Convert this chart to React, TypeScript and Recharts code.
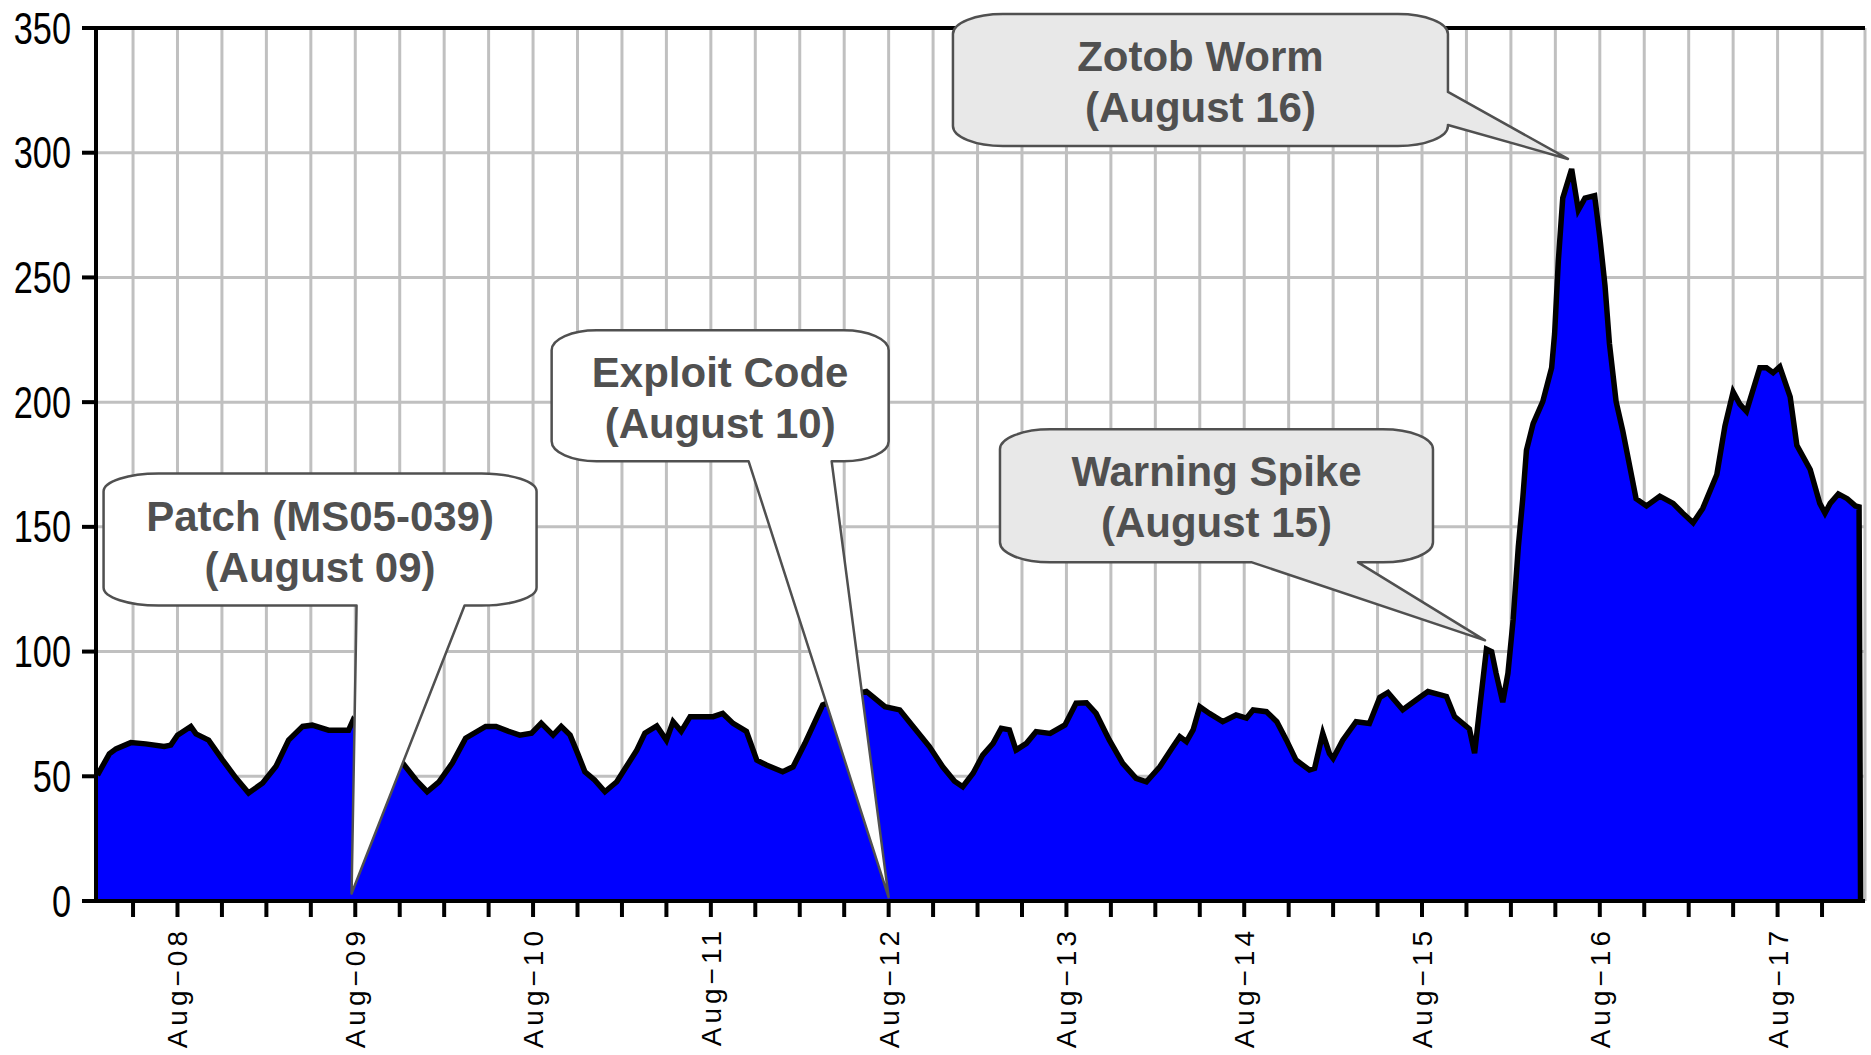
import React from 'react';
import { AreaChart, Area, XAxis, YAxis, CartesianGrid, ReferenceLine, ReferenceDot } from 'recharts';

// hours since Aug-08 00:00
const hours = [
  -10.8, -9.2, -8.3, -6.3, -4.3, -1.8, -0.9, 0, 1.8, 2.5,
  4.2, 6.1, 7.9, 9.6, 11.5, 13.3, 15, 16.9, 18.2, 20.4,
  23.1, 23.7, 26, 28, 30.4, 32.2, 33.7, 35.3, 37.1, 38.9,
  41.6, 43, 44.7, 46.2, 47.8, 49.1, 50.7, 51.8, 53, 54,
  55, 56.3, 57.7, 59.3, 60.6, 62, 63.1, 64.7, 66, 66.9,
  68, 69.2, 72.3, 73.6, 75, 76.8, 78.2, 79.5, 81.7, 83.1,
  84.7, 87.1, 90.1, 93, 95.5, 97.5, 99.3, 101.5, 103.3, 104.9,
  106, 107.4, 108.7, 110.1, 111.2, 112.3, 113.2, 114.6, 115.9, 117.8,
  119.8, 121.3, 122.7, 124, 125.8, 127.6, 129.4, 130.8, 132.6, 134.4,
  135.3, 136.2, 137.1, 138, 139.3, 141.1, 142.9, 144.3, 145.2, 147,
  148.4, 149.7, 151, 152.8, 153.5, 154.6, 155.5, 156, 157.3, 159.1,
  160.9, 162.3, 163.4, 165.4, 167.2, 168.8, 171.3, 172.4, 174.4, 175.1,
  175.8, 176.7, 177.4, 178, 178.9, 179.6, 180.3, 181, 181.6, 182.1,
  183, 184.3, 185.5, 185.9, 186.4, 187, 188.2, 189.1, 190, 191.3,
  192, 192.7, 193.3, 194.2, 195.1, 196, 196.9, 198.3, 200.1, 201.9,
  203.2, 204.6, 205.9, 207.8, 208.9, 210, 210.9, 211.8, 213.6, 214.5,
  215.4, 216.3, 217.7, 218.6, 220.4, 221.7, 222.4, 223.1, 224.2, 225.4,
  226.5, 227, 227.2,
];

const counts = [
  50.5, 59, 61, 63.5, 63, 62, 62.5, 66.5, 70, 67,
  64.5, 56.5, 49.3, 43.3, 47.3, 54, 64.5, 70, 70.5, 68.5,
  68.5, 72.5, 65, 60, 55.3, 48.5, 43.8, 47.8, 55.3, 65.3,
  70, 70, 68, 66.5, 67.3, 71.3, 66.5, 70, 66.5, 59.3,
  51.8, 48.5, 43.8, 47.8, 53.9, 60.5, 67.3, 70.2, 64.5, 71.9,
  68, 73.9, 73.9, 75.2, 71.2, 68, 56.5, 54.5, 51.8, 53.8,
  63.2, 78.6, 82, 84, 77.9, 76.6, 70, 61.9, 53.8, 48,
  45.8, 51.2, 58.5, 63.2, 69.2, 68.6, 60.5, 63.2, 67.9, 67.2,
  70.6, 79.3, 79.5, 75.2, 64.5, 55.2, 49.2, 47.8, 53.8, 61.9,
  65.9, 63.9, 68.6, 77.9, 75.2, 71.9, 74.6, 73.3, 76.6, 75.9,
  71.9, 64.5, 56.5, 52.5, 53.2, 67.2, 59.2, 57.2, 64.5, 71.9,
  71.2, 81.6, 83.6, 76.7, 80.6, 84, 82, 73.9, 69, 59.3,
  77.7, 101, 100, 91.3, 79.7, 91.3, 112.7, 141.9, 161.3, 180.7,
  191.4, 200.2, 213.8, 227.4, 256.5, 281.8, 293.5, 277, 281.8, 282.8,
  266.2, 246.8, 223.5, 200.2, 188.5, 174.9, 161.3, 158.4, 162.3, 159.4,
  155.5, 151.6, 157.4, 171, 190.5, 204.1, 199.2, 196.3, 213.8, 213.8,
  211.8, 214.2, 202.1, 182.7, 173, 159.4, 155.5, 159.4, 163.2, 161.3,
  158.4, 158, 0,
];

// tick every 6 hours, label every day
const tickHours = [
  -6, 0, 6, 12, 18, 24, 30, 36, 42, 48, 54, 60, 66, 72, 78, 84, 90, 96, 102, 108,
  114, 120, 126, 132, 138, 144, 150, 156, 162, 168, 174, 180, 186, 192, 198, 204,
  210, 216, 222,
];
const dayLabels = ['Aug−08', 'Aug−09', 'Aug−10', 'Aug−11', 'Aug−12', 'Aug−13', 'Aug−14', 'Aug−15', 'Aug−16', 'Aug−17'];
const yTicks = [0, 50, 100, 150, 200, 250, 300, 350];

const noteTitles = ['Patch (MS05-039)', 'Exploit Code', 'Warning Spike', 'Zotob Worm'];
const noteDates = ['(August 09)', '(August 10)', '(August 15)', '(August 16)'];
const noteHours = [23.5, 96, 176.5, 187.7];
const noteCounts = [3, 1.5, 104.5, 297.5];

// bubble geometry, pixels relative to the pointer tip
const noteBoxes = [
  { left: -248, right: 185, top: -420, bottom: -288, rx: 55, ry: 18, side: 'bottom', a: 5, b: 113, fill: '#ffffff' },
  { left: -337, right: 0, top: -567, bottom: -436, rx: 45, ry: 20, side: 'bottom', a: -140, b: -57, fill: '#ffffff' },
  { left: -485, right: -52, top: -211, bottom: -78, rx: 50, ry: 20, side: 'bottom', a: -233, b: -127, fill: '#e8e8e8' },
  { left: -615, right: -120, top: -145, bottom: -13, rx: 50, ry: 20, side: 'right', a: -67, b: -34, fill: '#e8e8e8' },
];

const data = hours.map((h, i) => ({ hour: h, count: counts[i] }));

const tickFont = '"Liberation Sans", Arial, sans-serif';

const XTick = (props: any) => {
  const { x, y, payload } = props;
  const h = payload.value;
  if (h % 24 !== 0) return <g />;
  return (
    <text
      transform={`translate(${x + 10},${y}) rotate(-90)`}
      textAnchor="end"
      fontFamily={tickFont}
      fontSize={28}
      letterSpacing={4}
      fill="#000"
    >
      {dayLabels[h / 24]}
    </text>
  );
};

const YTick = (props: any) => {
  const { x, y, payload } = props;
  return (
    <text
      transform={`translate(${x},${y}) scale(0.78,1)`}
      textAnchor="end"
      dy="0.355em"
      fontFamily={tickFont}
      fontSize={44}
      fill="#000"
    >
      {payload.value}
    </text>
  );
};

const Callout = (props: any) => {
  const { cx, cy, idx } = props;
  const c = noteBoxes[idx];
  const L = cx + c.left;
  const R = cx + c.right;
  const T = cy + c.top;
  const B = cy + c.bottom;
  const { rx, ry } = c;
  let d = `M ${L + rx} ${T} H ${R - rx} A ${rx} ${ry} 0 0 1 ${R} ${T + ry} `;
  if (c.side === 'right') {
    d += `V ${cy + c.a} L ${cx} ${cy} L ${R} ${cy + c.b} V ${B - ry} A ${rx} ${ry} 0 0 1 ${R - rx} ${B} H ${L + rx} `;
  } else {
    d += `V ${B - ry} A ${rx} ${ry} 0 0 1 ${R - rx} ${B} H ${cx + c.b} L ${cx} ${cy} L ${cx + c.a} ${B} H ${L + rx} `;
  }
  d += `A ${rx} ${ry} 0 0 1 ${L} ${B - ry} V ${T + ry} A ${rx} ${ry} 0 0 1 ${L + rx} ${T} Z`;
  const mid = (L + R) / 2;
  return (
    <g>
      <path d={d} fill={c.fill} stroke="#505050" strokeWidth={2.5} strokeLinejoin="round" />
      <text
        textAnchor="middle"
        fontFamily='"Liberation Sans", Arial, sans-serif'
        fontWeight="bold"
        fontSize={42}
        fill="#505050"
      >
        <tspan x={mid} y={T + 57}>{noteTitles[idx]}</tspan>
        <tspan x={mid} y={T + 108}>{noteDates[idx]}</tspan>
      </text>
    </g>
  );
};

export default function App() {
  return (
    <div style={{ position: 'absolute', left: 0, top: 0, width: 1871, height: 1055, background: '#fff' }}>
      <AreaChart width={1871} height={1055} data={data} margin={{ top: 28, right: 6, left: 0, bottom: 0 }}>
        <CartesianGrid stroke="#c0c0c0" strokeWidth={3} />
        <XAxis
          dataKey="hour"
          type="number"
          domain={[-11, 227.8]}
          allowDataOverflow
          ticks={tickHours}
          interval={0}
          height={154}
          tickSize={16}
          tickMargin={10}
          axisLine={{ stroke: '#000', strokeWidth: 4 }}
          tickLine={{ stroke: '#000', strokeWidth: 4 }}
          tick={<XTick />}
        />
        <YAxis
          type="number"
          domain={[0, 350]}
          ticks={yTicks}
          interval={0}
          width={96}
          tickSize={14}
          tickMargin={11}
          axisLine={{ stroke: '#000', strokeWidth: 4 }}
          tickLine={{ stroke: '#000', strokeWidth: 4 }}
          tick={<YTick />}
        />
        <Area
          type="linear"
          dataKey="count"
          stroke="#000"
          strokeWidth={5.5}
          fill="#0000ff"
          fillOpacity={1}
          dot={false}
          activeDot={false}
          isAnimationActive={false}
        />
        <ReferenceLine y={350} stroke="#000" strokeWidth={4} />
        {noteTitles.map((t, i) => (
          <ReferenceDot
            key={t}
            x={noteHours[i]}
            y={noteCounts[i]}
            r={1}
            ifOverflow="visible"
            shape={(p: any) => <Callout {...p} idx={i} />}
          />
        ))}
      </AreaChart>
    </div>
  );
}
